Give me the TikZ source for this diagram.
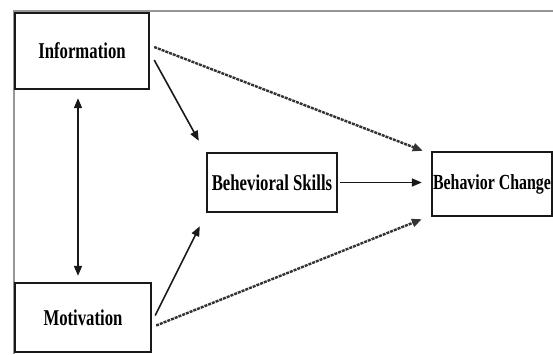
\documentclass[tikz,border=0pt]{standalone}
\usepackage{fontspec}
\setmainfont{Liberation Serif}[FakeStretch=0.74]
\usepackage{tikz}
\usetikzlibrary{positioning, arrows.meta, calc}
\definecolor{framegray}{RGB}{150, 150, 150}
\definecolor{boxline}{RGB}{25, 25, 25}

\begin{document}
\begin{tikzpicture}[x=1pt, y=-1pt, >={Triangle[length=10pt, width=8pt]},
    block/.style={draw=boxline, line width=2.4pt, inner sep=0pt, align=center,
        font=\bfseries\fontsize{22.6}{26}\selectfont},
    arr/.style={->, line width=1.6pt, color=boxline},
    dasharr/.style={arr, line width=2.4pt, color=black!80, dash pattern=on 3pt off 1pt}]
    \useasboundingbox (0,0) rectangle (553,354);
    \draw[framegray, line width=1.8pt] (14,354) -- (14,11) -- (553,11);
    \node[block, minimum width=134pt, minimum height=76pt] (info) at (82,51) {Information};
    \node[block, minimum width=136pt, minimum height=69pt] (motiv) at (83,317.5) {Motivation};
    \node[block, minimum width=130pt, minimum height=59pt] (skills) at (272,182.5) {Behevioral Skills};
    \node[block, minimum width=120pt, minimum height=64pt,
        font=\bfseries\fontsize{21.5}{25}\selectfont] (change) at (492,184) {Behavior Change};
    \draw[arr, <->] ([shift={(-4,8)}]info.south) -- ([shift={(-5,-6)}]motiv.north);
    \draw[arr] ([shift={(4,9)}]info.east) -- ([shift={(-7,-11)}]skills.north west);
    \draw[arr] ([shift={(3,-2)}]motiv.east) -- ([shift={(-6,13)}]skills.south west);
    \draw[arr] ([xshift=2pt]skills.east) -- ([xshift=-9pt]change.west |- skills.east);
    \draw[dasharr] ([shift={(4,-4)}]info.east) -- ([shift={(-8,0)}]change.north west);
    \draw[dasharr] ([shift={(4,8)}]motiv.east) -- ([shift={(-9,2)}]change.south west);
\end{tikzpicture}
\end{document}
